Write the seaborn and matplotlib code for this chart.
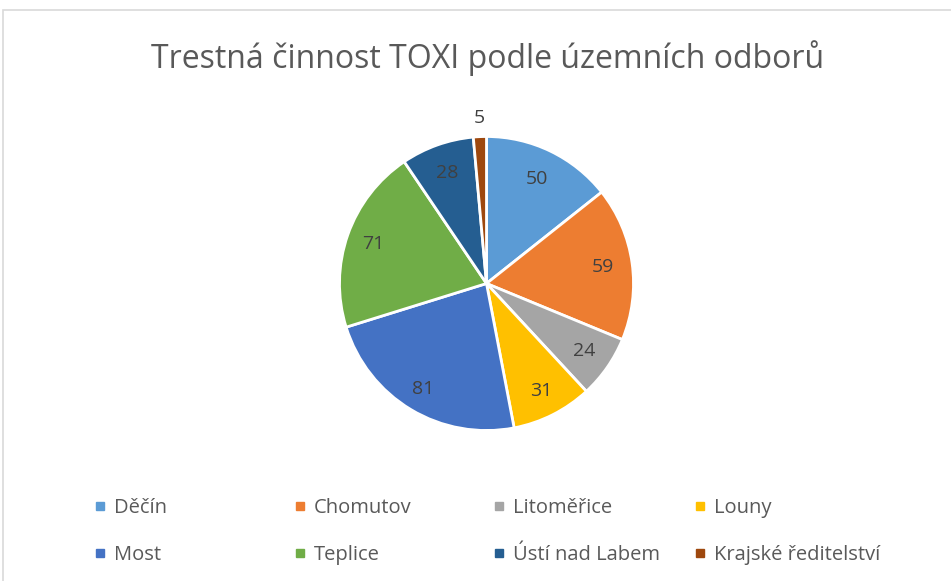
import numpy as np
import matplotlib
matplotlib.use("Agg")
import matplotlib.pyplot as plt
import seaborn as sns
from matplotlib.patches import Rectangle
from matplotlib.lines import Line2D

categories = ["Děčín", "Chomutov", "Litoměřice", "Louny", "Most", "Teplice", "Ústí nad Labem", "Krajské ředitelství"]
values = [50, 59, 24, 31, 81, 71, 28, 5]
colors = ["#5B9BD5", "#ED7D31", "#A5A5A5", "#FFC000", "#4472C4", "#70AD47", "#255E91", "#9E480E"]
title = "Trestná činnost TOXI podle územních odborů"

sns.set_style("white")
plt.rcParams['font.family'] = ['Open Sans', 'DejaVu Sans']

W, H = 951, 581
fig = plt.figure(figsize=(W / 100, H / 100), dpi=100)

# chart border
fig.patches.append(Rectangle((3 / W, -0.1), 1.2, (H - 10) / H + 0.1, transform=fig.transFigure,
                             fill=False, edgecolor="#D9D9D9", linewidth=1.2))

cx, cy, r = 486.5, 283.5, 147
ax = fig.add_axes([(cx - r) / W, (H - cy - r) / H, 2 * r / W, 2 * r / H])
palette = sns.color_palette(colors)
wedges, _ = ax.pie(values, colors=palette, startangle=90, counterclock=False,
                   wedgeprops=dict(edgecolor="white", linewidth=2))
ax.set_xlim(-1, 1)
ax.set_ylim(-1, 1)
ax.set_aspect("equal")
ax.axis("off")

dists = [0.79, 0.80, 0.81, 0.82, 0.84, 0.82, 0.80, 1.13]
for w, v, d in zip(wedges, values, dists):
    ang = np.deg2rad((w.theta1 + w.theta2) / 2)
    ax.text(d * np.cos(ang), d * np.sin(ang), str(v), ha="center", va="center",
            fontsize=14, color="#404040", clip_on=False)

fig.text(488 / W, 1 - 58 / H, title, ha="center", va="center", fontsize=23, color="#595959")

# legend: four equal-width columns, two rows
fs = 14.5
fs_px = fs * 100 / 72
hl = 0.6
col_marker_x = [100, 300, 499, 700]
row_y = [508, 555]
for i, name in enumerate(categories):
    c, rrow = i % 4, i // 4
    h = Line2D([], [], marker="s", linestyle="none", markersize=5.4,
               markerfacecolor=colors[i], markeredgecolor=colors[i])
    left = col_marker_x[c] - hl * fs_px / 2
    leg = fig.legend([h], [name], loc="center left",
                     bbox_to_anchor=(left / W, 1 - row_y[rrow] / H), frameon=False,
                     fontsize=fs, handlelength=hl, handletextpad=0.38,
                     borderaxespad=0, borderpad=0)
    for t in leg.get_texts():
        t.set_color("#595959")

fig.savefig("out.png", dpi=100)
